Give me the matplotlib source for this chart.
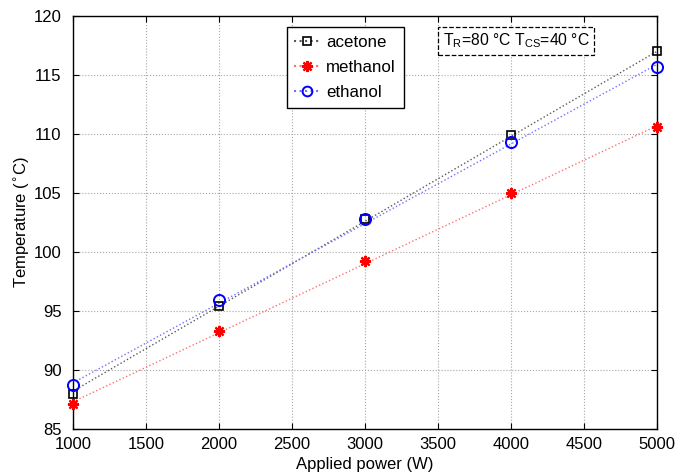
import matplotlib
matplotlib.use("Agg")
import matplotlib.pyplot as plt
from matplotlib.lines import Line2D
import numpy as np

plt.rcParams['font.family'] = ['Liberation Sans', 'DejaVu Sans']

power = [1000, 2000, 3000, 4000, 5000]
acetone = [88.0, 95.4, 102.8, 109.9, 117.0]
methanol = [87.1, 93.3, 99.25, 105.0, 110.6]
ethanol = [88.7, 95.9, 102.8, 109.3, 115.7]

# trend line end points
fit_x = [1000, 5000]
fit_acetone = [88.2, 117.0]
fit_methanol = [87.3, 110.7]
fit_ethanol = [88.9, 115.9]

star = (8, 2, 0)

fig = plt.figure(figsize=(6.8, 4.76), dpi=100)
ax = fig.add_axes([0.107, 0.0987, 0.859, 0.8676])

ax.plot(fit_x, fit_acetone, ':', color='0.35', lw=1)
ax.plot(fit_x, fit_methanol, ':', color='#ff7070', lw=1)
ax.plot(fit_x, fit_ethanol, ':', color='#7070ff', lw=1)

ax.plot(power, acetone, 's', mfc='none', mec='k', ms=6, mew=1.2, clip_on=False, zorder=5)
ax.plot(power, methanol, marker=star, ls='none', color='r', ms=8, mew=1.6, clip_on=False, zorder=5)
ax.plot(power, ethanol, 'o', mfc='none', mec='b', ms=8, mew=1.4, clip_on=False, zorder=5)

ax.set_xlim(1000, 5000)
ax.set_ylim(85, 120)
ax.set_xticks(np.arange(1000, 5001, 500))
ax.set_yticks(np.arange(85, 121, 5))
ax.tick_params(direction='in', top=True, right=True, labelsize=12, length=4)
ax.tick_params(axis='x', pad=6)
ax.tick_params(axis='y', pad=8)
ax.grid(True, linestyle=':', color='0.65', lw=0.8)
for s in ax.spines.values():
    s.set_linewidth(1.0)

ax.set_xlabel('Applied power (W)', fontsize=12, labelpad=3)
ax.set_ylabel(r'Temperature ($^{\circ}$C)', fontsize=12, labelpad=1)

handles = [
    Line2D([], [], ls=':', color='0.35', marker='s', mfc='none', mec='k', ms=6, mew=1.2),
    Line2D([], [], ls=':', color='#ff7070', marker=star, mfc='r', mec='r', ms=8, mew=1.6),
    Line2D([], [], ls=':', color='#7070ff', marker='o', mfc='none', mec='b', ms=7, mew=1.4),
]
leg = ax.legend(handles, ['acetone', 'methanol', 'ethanol'], loc='upper left',
                bbox_to_anchor=(0.366, 0.973), fontsize=12.2, fancybox=False,
                edgecolor='k', framealpha=1, handlelength=1.5, borderpad=0.45,
                labelspacing=0.6, handletextpad=0.4, borderaxespad=0)
leg.get_frame().set_linewidth(1.0)

ax.text(0.633, 0.962, r'T$_\mathregular{R}$=80 °C T$_\mathregular{CS}$=40 °C',
        transform=ax.transAxes, fontsize=11.3, va='top', ha='left',
        bbox=dict(boxstyle='square,pad=0.3', fc='white', ec='k', ls='--', lw=0.9))

fig.savefig('out.png', dpi=100)
